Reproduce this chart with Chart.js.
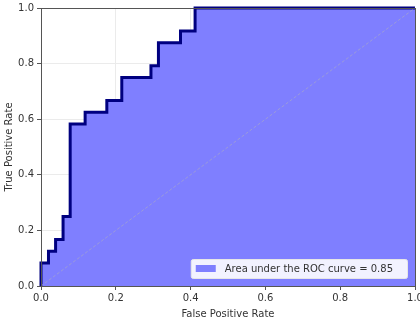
<!DOCTYPE html>
<html lang="en">
<head>
    <meta charset="UTF-8">
    <title>ROC curve</title>
    <style>
        html, body {
            margin: 0;
            padding: 0;
            background: #fff;
        }
        #wrap {
            width: 420px;
            height: 320px;
            position: relative;
        }
    </style>
</head>
<body>
    <div id="wrap">
        <canvas id="rocChart" width="420" height="320"></canvas>
    </div>

    <script src="https://cdn.jsdelivr.net/npm/chart.js"></script>
    <script>
// ROC points (corners of the step curve)
const fpr = [0, 0, 0.02, 0.02, 0.039, 0.039, 0.059, 0.059, 0.078, 0.078, 0.118, 0.118,
             0.176, 0.176, 0.216, 0.216, 0.294, 0.294, 0.314, 0.314, 0.373, 0.373, 0.412, 0.412, 1];
const tpr = [0, 0.083, 0.083, 0.125, 0.125, 0.167, 0.167, 0.25, 0.25, 0.583, 0.583, 0.625,
             0.625, 0.667, 0.667, 0.75, 0.75, 0.792, 0.792, 0.875, 0.875, 0.917, 0.917, 1, 1];
const diagX = [0, 1];
const diagY = [0, 1];
const tickValues = [0, 0.2, 0.4, 0.6, 0.8, 1.0];
const aucLabel = 'Area under the ROC curve = 0.85';

const FONT = 'DejaVu Sans';
const TEXT = '#333';

// matplotlib-style frame on all four sides
const spines = {
    id: 'spines',
    afterDatasetsDraw(chart) {
        const a = chart.chartArea;
        const ctx = chart.ctx;
        ctx.save();
        ctx.strokeStyle = '#555';
        ctx.lineWidth = 1;
        ctx.strokeRect(Math.round(a.left) + 0.5, Math.round(a.top) + 0.5,
            Math.round(a.right - a.left), Math.round(a.bottom - a.top));
        ctx.restore();
    }
};

// legend box in the lower right corner of the plot
const insideLegend = {
    id: 'insideLegend',
    afterDraw(chart) {
        const a = chart.chartArea;
        const ctx = chart.ctx;
        const ds = chart.data.datasets[0];
        ctx.save();
        ctx.font = '10px ' + FONT;
        const w = ctx.measureText(ds.label).width + 48;
        const h = 19;
        const x = a.right - 8 - w;
        const y = a.bottom - 8 - h;
        ctx.fillStyle = 'rgba(255,255,255,0.9)';
        ctx.strokeStyle = '#e6e6e6';
        ctx.lineWidth = 1;
        ctx.beginPath();
        ctx.roundRect(x + 0.5, y + 0.5, w, h, 2);
        ctx.fill();
        ctx.stroke();
        ctx.fillStyle = ds.backgroundColor;
        ctx.fillRect(x + 5, y + 6, 20, 7);
        ctx.fillStyle = TEXT;
        ctx.textBaseline = 'middle';
        ctx.fillText(ds.label, x + 34, y + h / 2 + 0.5);
        ctx.restore();
    }
};

const ctx = document.getElementById('rocChart').getContext('2d');
new Chart(ctx, {
    type: 'line',
    data: {
        datasets: [{
            label: aucLabel,
            data: fpr.map((x, i) => ({ x: x, y: tpr[i] })),
            borderColor: '#000080',
            borderWidth: 3,
            backgroundColor: '#7f7fff',
            fill: 'origin',
            pointRadius: 0,
            tension: 0,
            order: 1
        }, {
            label: 'diag',
            data: diagX.map((x, i) => ({ x: x, y: diagY[i] })),
            borderColor: 'rgba(160, 160, 210, 0.85)',
            borderWidth: 1,
            borderDash: [3, 2],
            pointRadius: 0,
            fill: false,
            order: 0
        }]
    },
    options: {
        responsive: false,
        animation: false,
        clip: 2,
        layout: { padding: { top: 8, right: 5, left: 0, bottom: 0 } },
        plugins: {
            legend: { display: false },
            tooltip: { enabled: false }
        },
        scales: {
            x: {
                type: 'linear',
                min: 0,
                max: 1,
                afterBuildTicks(scale) { scale.ticks = tickValues.map(v => ({ value: v })); },
                afterFit(scale) { scale.height = 34; scale.paddingLeft = 0; scale.paddingRight = 0; },
                grid: { color: '#ebebeb', tickColor: '#555', tickLength: 4, drawOnChartArea: true },
                border: { display: false },
                ticks: {
                    color: TEXT,
                    font: { family: FONT, size: 10 },
                    padding: 2,
                    maxRotation: 0,
                    callback: v => v.toFixed(1)
                },
                title: {
                    display: true,
                    text: 'False Positive Rate',
                    color: TEXT,
                    font: { family: FONT, size: 10 },
                    padding: { top: 1, bottom: 0 }
                }
            },
            y: {
                type: 'linear',
                min: 0,
                max: 1,
                afterBuildTicks(scale) { scale.ticks = tickValues.map(v => ({ value: v })); },
                afterFit(scale) { scale.width = 41; scale.paddingTop = 0; scale.paddingBottom = 0; },
                grid: { color: '#ebebeb', tickColor: '#555', tickLength: 4 },
                border: { display: false },
                ticks: {
                    color: TEXT,
                    font: { family: FONT, size: 10 },
                    padding: 3,
                    callback: v => v.toFixed(1)
                },
                title: {
                    display: true,
                    text: 'True Positive Rate',
                    color: TEXT,
                    font: { family: FONT, size: 10 },
                    padding: { top: 3, bottom: 0 }
                }
            }
        }
    },
    plugins: [spines, insideLegend]
});
    </script>
</body>
</html>
